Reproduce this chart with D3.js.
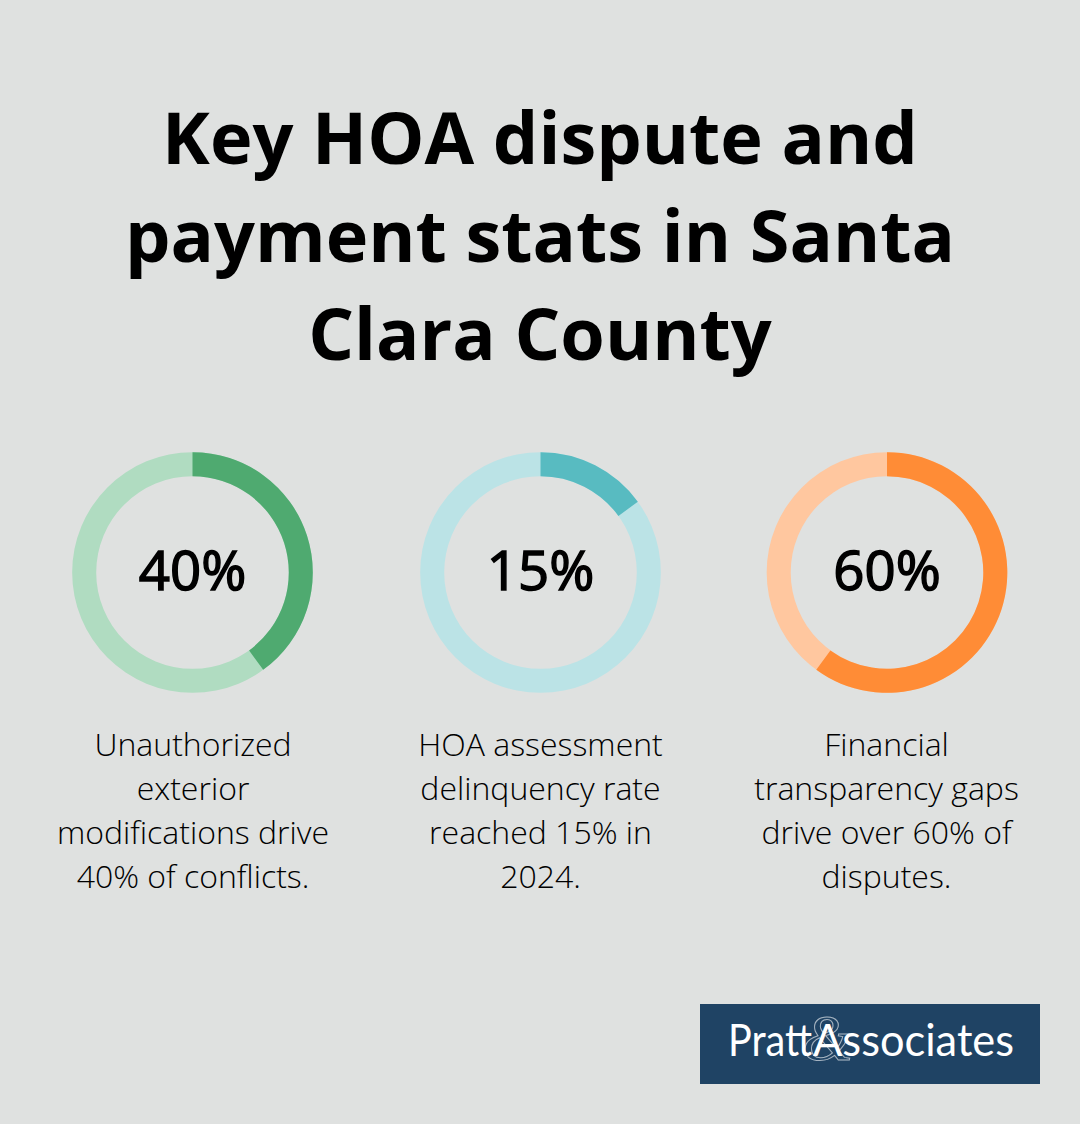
<!DOCTYPE html>
<html><head><meta charset="utf-8">
<script src="https://cdnjs.cloudflare.com/ajax/libs/d3/7.8.5/d3.min.js"></script>
<style>html,body{margin:0;padding:0;background:#dfe1e0}svg{display:block}</style>
</head><body><svg id="c" width="1080" height="1124"></svg>
<script>
const titleLines=["Key HOA dispute and","payment stats in Santa","Clara County"];
const values=[40,15,60];
const labels=["40%","15%","60%"];
const captions=[["Unauthorized","exterior","modifications drive","40% of conflicts."],["HOA assessment","delinquency rate","reached 15% in","2024."],["Financial","transparency gaps","drive over 60% of","disputes."]];
const mainColors=["#4faa70","#58bbc1","#ff8c36"];
const lightColors=["#b0dcc1","#bbe3e6","#ffc79f"];
const centers=[192.5,540.5,887];
const captionCenters=[193,540.5,886.5];
const svg=d3.select("#c");
const font="'Open Sans'";
svg.append("rect").attr("width",1080).attr("height",1124).attr("fill","#dfe1e0");
svg.selectAll("text.t").data(titleLines).join("text").attr("class","t").attr("x",540).attr("y",(d,i)=>164+i*98)
 .attr("text-anchor","middle").attr("font-family",font).attr("font-weight",700).attr("font-size",72).attr("fill","#000").text(d=>d);
const arc=d3.arc().innerRadius(96.3).outerRadius(120.3);
const angle=d3.scaleLinear().domain([0,100]).range([0,2*Math.PI]);
values.forEach((v,i)=>{
 const g=svg.append("g").attr("transform",`translate(${centers[i]},572.5)`);
 g.append("path").attr("d",arc({startAngle:0,endAngle:2*Math.PI})).attr("fill",lightColors[i]);
 g.append("path").attr("d",arc({startAngle:0,endAngle:angle(v)})).attr("fill",mainColors[i]);
 g.append("text").attr("y",17).attr("text-anchor","middle").attr("font-family",font).attr("font-weight",400).attr("font-size",54.5).attr("fill","#000").attr("stroke","#000").attr("stroke-width",1.5).text(labels[i]);
 captions[i].forEach((l,j)=>{
  svg.append("text").attr("x",captionCenters[i]).attr("y",756+j*44).attr("text-anchor","middle").attr("font-family",font).attr("font-weight",300).attr("font-size",32).attr("fill","#000").text(l);
 });
});
svg.append("rect").attr("x",700).attr("y",1004).attr("width",340).attr("height",80).attr("fill","#1f4364");
svg.append("text").attr("x",828).attr("y",1060).attr("text-anchor","middle").attr("font-family","'Liberation Serif'").attr("font-style","italic").attr("font-size",66).attr("fill","none").attr("stroke","#fff").attr("stroke-opacity",0.6).attr("stroke-width",1).text("&");
svg.append("text").attr("x",728).attr("y",1056).attr("font-family","Lato").attr("font-weight",400).attr("font-size",44).attr("fill","#fff").attr("textLength",84).attr("lengthAdjust","spacingAndGlyphs").text("Pratt");
svg.append("text").attr("x",813).attr("y",1056).attr("font-family","Lato").attr("font-weight",400).attr("font-size",44).attr("fill","#fff").attr("textLength",201).attr("lengthAdjust","spacingAndGlyphs").text("Associates");
</script></body></html>
